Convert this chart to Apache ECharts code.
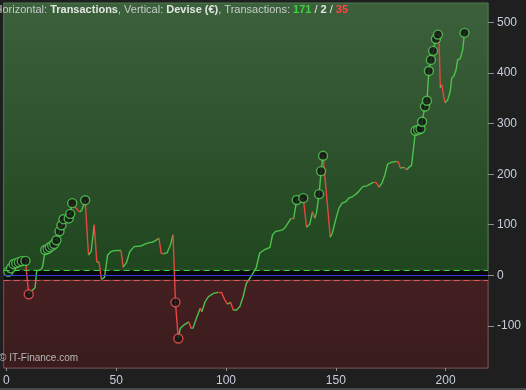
<!DOCTYPE html>
<html>
<head>
<meta charset="utf-8">
<script src="https://cdn.jsdelivr.net/npm/echarts@6/dist/echarts.min.js"></script>
<style>html,body{margin:0;padding:0;background:#1f1f1f;}#c{width:526px;height:390px;}</style>
</head>
<body>
<div id="c"></div>
<script>
// ---- data ----
const tradeNo = [0,0.9,2.1,3.3,4.5,5.7,7.0,8.7,10.2,11.1,13.1,13.8,15.6,16.5,17.7,18.8,19.8,20.9,21.8,22.8,24.2,25.1,26,28.4,29.1,30,31.1,33.4,34.4,35.9,37.4,38.6,40,41.2,42.2,43.3,44.7,46.1,47.6,49.2,52.2,53.2,54.7,56.2,58.2,61.2,63.4,65,66.4,67.9,69.5,70.5,71.7,73.2,74.7,75.9,77,78.3,79.2,80.8,83,84.2,85,86.8,88.3,89,90.5,92,94.3,96.5,98,99.5,100.7,102.1,103.3,104.8,106.3,107.8,109.3,111.6,113.8,115.3,117.6,120,121.2,122.5,125.7,127,129.6,130.8,132.2,135.2,136.7,138.2,139.4,140.4,141.2,142.4,143.3,144.2,147.5,148.4,149.9,151.4,152.9,154.6,155.9,157.4,159.7,162.3,164.2,167.2,168.4,169.7,171,172.3,173.6,175.5,177.7,178.5,179.4,181.2,182.3,183.4,184.5,186.3,187.5,188.6,189.3,190.6,191.5,192.4,193.3,194.3,195.6,196.5,197,197.6,198.3,199.1,199.8,201,202.1,202.8,203.7,204.8,205.5,206.6,207.8,208.6];
const balance = [3,7,14,22,24,26,28,28.5,-37.5,-32.5,-24.5,9,10.5,17,50,52,55.5,58.7,62,69.4,87,99,111,112.5,121.5,142.7,136,125,129.4,148.6,40,47,100,26,26,-8,-4,40,46.8,48.8,49,16,25,47,56.7,58,62,64.6,65.4,68.6,73.3,43.6,42.2,44.8,60,80,-53.5,-125,-105,-98.5,-92,-105,-104,-82,-65.4,-72,-52.3,-42.4,-35.7,-33.7,-34.5,-49,-57,-53.5,-68.8,-68.8,-62.2,-42.4,-15.9,-1,15,43.6,51,55,80,86.4,89.8,95,112.5,111.5,149,152.6,95,101.7,126,113,123,160.5,206,236.4,75.3,83.2,109,132.8,142.7,145.9,152.6,155,162.5,175.6,177,184.3,183.5,174.4,182.3,198,220.3,224,225.1,224,212,213.5,208.7,214,217.5,286,288,290,303.8,334,345.4,404.3,426.1,444,467.7,476.2,463,370.6,377,354,341,347.4,364,390.4,393.6,407,426.7,428,446.5,479.6];
const highNo = [0.9,2.1,3.3,4.5,5.7,7.0,8.7,17.7,18.8,19.8,20.9,21.8,22.8,24.2,25.1,26,28.4,29.1,30,35.9,132.2,135.2,142.4,143.3,144.2,186.3,187.5,188.6,189.3,190.6,191.5,192.4,193.3,194.3,195.6,196.5,208.6];
const lowNo = [10.2,77,78.3];
const bandLevels = [10, 0, -10];
const xTickStep = 50;
const yTickStep = 100;
const titleCounts = ['171','2','35'];

// ---- view range ----
const X_MIN = -1.22, X_MAX = 219.3;
const Y_MIN = -183.4, Y_MAX = 538.7;

const GREEN = '#4cc24c', RED = '#e8463e';
const pts = tradeNo.map((x,i)=>[x,balance[i]]);
const runs = [];
let cur = null;
for (let i=1;i<pts.length;i++){
  const up = pts[i][1] >= pts[i-1][1];
  if(!cur || cur.up!==up){ cur={up:up,coords:[pts[i-1]]}; runs.push(cur); }
  cur.coords.push(pts[i]);
}
const lineData = runs.map(r=>({coords:r.coords,lineStyle:{color:r.up?GREEN:RED}}));
const findPt = x => pts[tradeNo.indexOf(x)];
const highPts = highNo.map(findPt);
const lowPts = lowNo.map(findPt);

const FONT = 'Liberation Sans, Arial, sans-serif';
const chart = echarts.init(document.getElementById('c'), null, {renderer:'canvas'});
chart.setOption({
  backgroundColor:'#1f1f1f',
  animation:false,
  graphic:[
    {type:'text',x:-5.5,y:4.5,z:100,style:{
      text:'{n|Horizontal: }{b|Transactions}{n|, Vertical: }{b|Devise (€)}{n|, Transactions: }{g|'+titleCounts[0]+'}{w| / }{wb|'+titleCounts[1]+'}{w| / }{r|'+titleCounts[2]+'}',
      font:'11px '+FONT,
      rich:{
        n:{fill:'#c8ccc8',font:'11px '+FONT},
        b:{fill:'#e2e6e2',font:'bold 11px '+FONT},
        g:{fill:'#3fd13f',font:'bold 11px '+FONT},
        w:{fill:'#e6e6e6',font:'11px '+FONT},
        wb:{fill:'#e6e6e6',font:'bold 11px '+FONT},
        r:{fill:'#ff4545',font:'bold 11px '+FONT}
      }
    }},
    {type:'text',x:-1,y:353,z:100,style:{text:'© IT-Finance.com',fill:'#b8b8b8',font:'10px '+FONT}},
    {type:'rect',x:0,y:388,z:100,shape:{width:526,height:2},style:{fill:'#4a4a4a'}}
  ],
  grid:{left:0,right:38,top:3,bottom:22,containLabel:false},
  xAxis:{
    type:'value', min:X_MIN, max:X_MAX, minInterval:xTickStep, maxInterval:xTickStep,
    axisLine:{show:false,onZero:false},
    axisTick:{show:true,length:3,lineStyle:{color:'#8a8f96'}},
    axisLabel:{color:'#c6cedb',fontSize:12,fontFamily:FONT,margin:7,showMinLabel:false,showMaxLabel:false},
    splitLine:{show:true,lineStyle:{color:'rgba(255,255,255,0.11)',width:1}},
    z:1
  },
  yAxis:{
    type:'value', position:'right', min:Y_MIN, max:Y_MAX, minInterval:yTickStep, maxInterval:yTickStep,
    axisLine:{show:false,onZero:false},
    axisTick:{show:true,length:6,lineStyle:{color:'#8a8f96'}},
    axisLabel:{color:'#c6cedb',fontSize:12,fontFamily:FONT,margin:9,showMinLabel:false,showMaxLabel:false},
    splitLine:{show:true,lineStyle:{color:'rgba(255,255,255,0.11)',width:1}},
    z:1
  },
  series:[
    {
      type:'line', z:-1, data:[[0,0]], showSymbol:false, symbol:'none', lineStyle:{opacity:0}, silent:true,
      markArea:{
        silent:true,
        data:[
          [{yAxis:bandLevels[0],itemStyle:{color:new echarts.graphic.LinearGradient(0,0,0,1,[{offset:0,color:'#3c603c'},{offset:1,color:'#20461f'}]),borderColor:'#4d7a4d',borderWidth:1}},{yAxis:Y_MAX}],
          [{yAxis:bandLevels[2],itemStyle:{color:'#0a0a0a',borderWidth:0}},{yAxis:bandLevels[0]}],
          [{yAxis:Y_MIN,itemStyle:{color:new echarts.graphic.LinearGradient(0,0,0,1,[{offset:0,color:'#441f21'},{offset:1,color:'#3a1c1d'}]),borderColor:'#7a4a4c',borderWidth:1}},{yAxis:bandLevels[2]}]
        ]
      }
    },
    {
      type:'line', z:2, data:[[0,0]], showSymbol:false, symbol:'none', lineStyle:{opacity:0}, silent:true,
      markLine:{
        silent:true, symbol:'none', label:{show:false},
        data:[
          {yAxis:bandLevels[0],lineStyle:{color:'#3fcf3f',type:[6,4],width:1.2}},
          {yAxis:bandLevels[1],lineStyle:{color:'#3c3cdc',type:'solid',width:1.2}},
          {yAxis:bandLevels[2],lineStyle:{color:'#e25555',type:[6,4],width:1.2}}
        ]
      }
    },
    {
      type:'lines', coordinateSystem:'cartesian2d', polyline:true, z:3, silent:true,
      lineStyle:{width:1.4,opacity:1,curveness:0},
      data:lineData
    },
    {
      type:'scatter', z:4, symbol:'circle', symbolSize:9, silent:true,
      itemStyle:{color:'#141414',borderColor:'#55cf55',borderWidth:1.4},
      data:highPts
    },
    {
      type:'scatter', z:4, symbol:'circle', symbolSize:9, silent:true,
      itemStyle:{color:'#141414',borderColor:'#f05252',borderWidth:1.4},
      data:lowPts
    }
  ]
});
</script>
</body>
</html>
